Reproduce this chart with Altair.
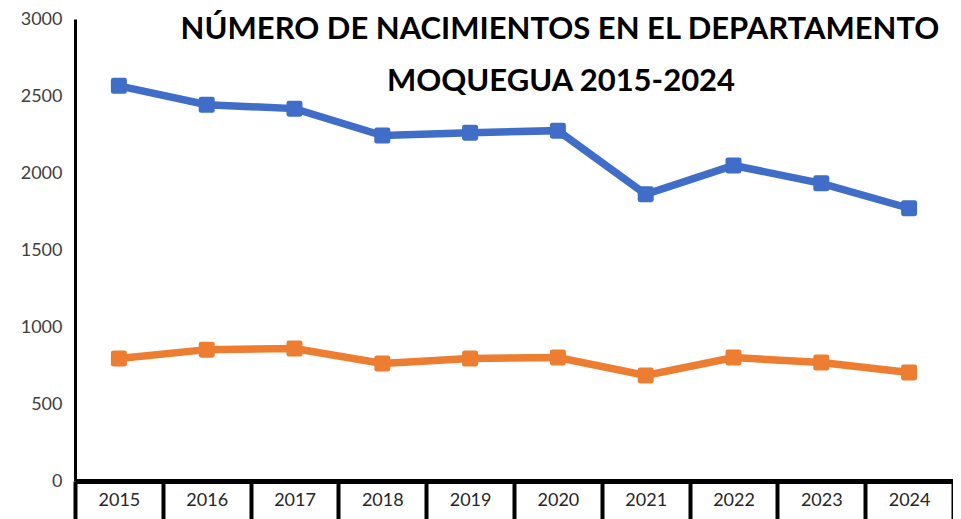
import altair as alt
import pandas as pd

years = ["2015", "2016", "2017", "2018", "2019", "2020", "2021", "2022", "2023", "2024"]
serie_azul = [2566, 2443, 2418, 2243, 2262, 2275, 1862, 2049, 1933, 1771]
serie_naranja = [795, 853, 860, 763, 795, 802, 685, 802, 769, 705]
series_names = ["Serie 1", "Serie 2"]
series_colors = ["#3F6DC7", "#ED7D31"]
title_lines = ["NÚMERO DE NACIMIENTOS EN EL DEPARTAMENTO", "MOQUEGUA 2015-2024"]

rows = []
for y, v in zip(years, serie_azul):
    rows.append({"Año": y, "Serie": series_names[0], "Valor": v})
for y, v in zip(years, serie_naranja):
    rows.append({"Año": y, "Serie": series_names[1], "Valor": v})
df = pd.DataFrame(rows)

W = 878
H = 462
FONT = "Lato"

rounded_square = ("M -0.7,-1 L 0.7,-1 Q 1,-1 1,-0.7 L 1,0.7 Q 1,1 0.7,1 "
                  "L -0.7,1 Q -1,1 -1,0.7 L -1,-0.7 Q -1,-1 -0.7,-1 Z")

x_enc = alt.X("Año:O", sort=years, bandPosition=0.5,
              scale=alt.Scale(type="band", paddingInner=0, paddingOuter=0),
              axis=alt.Axis(title=None, labelAngle=0, labelFont=FONT, labelFontSize=18,
                            labelColor="#262626", domainColor="black", domainWidth=5,
                            tickColor="black", tickWidth=4, tickSize=40, tickBand="extent",
                            labelPadding=-30, grid=False))
y_enc = alt.Y("Valor:Q",
              scale=alt.Scale(domain=[0, 3000], nice=False),
              axis=alt.Axis(title=None, values=[0, 500, 1000, 1500, 2000, 2500, 3000],
                            format="d", labelFont=FONT, labelFontSize=18, labelColor="#404040",
                            domainColor="black", domainWidth=3, ticks=False,
                            labelPadding=13, grid=False))
color_enc = alt.Color("Serie:N", scale=alt.Scale(domain=series_names, range=series_colors),
                      legend=None)

lines = alt.Chart(df).mark_line(strokeWidth=7.5).encode(
    x=x_enc, y=y_enc, color=color_enc, detail="Serie:N")
points = alt.Chart(df).mark_point(shape=rounded_square, filled=True, size=256, opacity=1).encode(
    x=x_enc, y=y_enc, color=color_enc)

title_df = pd.DataFrame({"linea": title_lines, "orden": [0, 1]})
title1 = alt.Chart(title_df).transform_filter("datum.orden == 0").mark_text(
    font=FONT, fontSize=31, fontWeight="bold", color="black", align="center",
    baseline="middle").encode(text="linea:N", x=alt.value(485), y=alt.value(11))
title2 = alt.Chart(title_df).transform_filter("datum.orden == 1").mark_text(
    font=FONT, fontSize=31, fontWeight="bold", color="black", align="center",
    baseline="middle").encode(text="linea:N", x=alt.value(486), y=alt.value(63))

chart = alt.layer(lines, points, title1, title2).properties(
    width=W, height=H,
    autosize=alt.AutoSizeParams(type="none"),
    padding={"left": 67, "top": 11, "right": 0, "bottom": 40},
    background="white",
).configure_view(stroke=None)

chart.save("out.html", embed_options={"renderer": "svg", "actions": False})
